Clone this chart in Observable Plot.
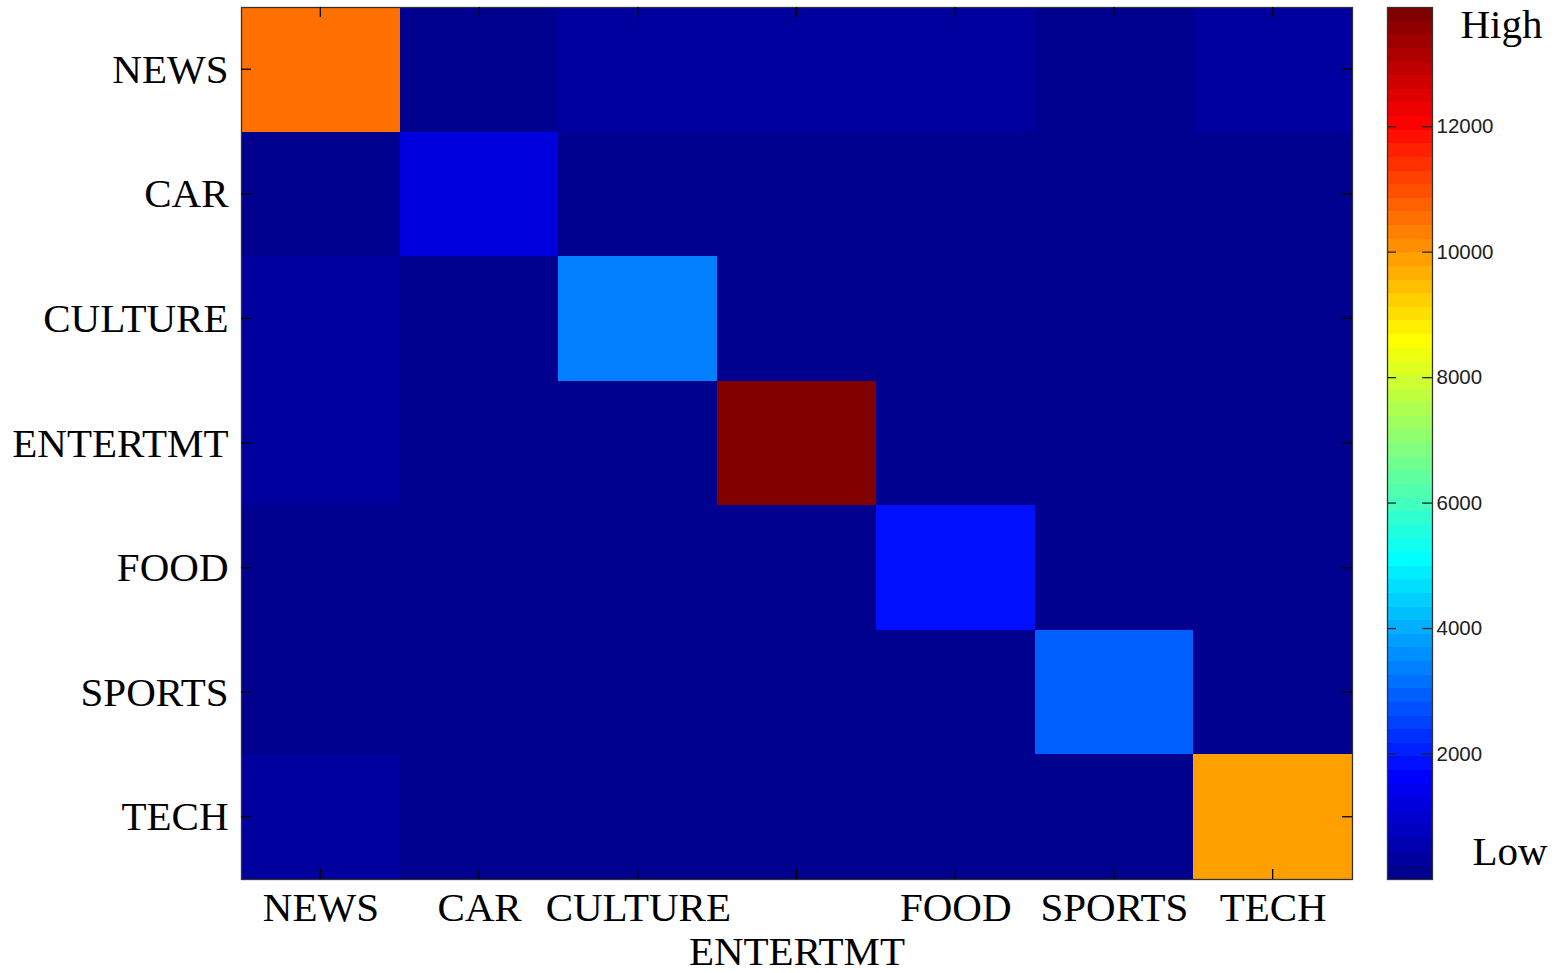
<!DOCTYPE html>
<html>
<head>
<meta charset="utf-8">
<script src="https://cdn.jsdelivr.net/npm/d3@7"></script>
<script src="https://cdn.jsdelivr.net/npm/@observablehq/plot@0.6"></script>
<style>
  html, body { margin: 0; padding: 0; background: #fff; }
  #wrap { position: relative; width: 1557px; height: 973px; }
  #wrap svg { position: absolute; top: 0; overflow: visible; }
</style>
</head>
<body>
<div id="wrap"></div>
<script>
// Confusion matrix of news-category classification (rows: actual, columns: predicted)
const categories = ["NEWS", "CAR", "CULTURE", "ENTERTMT", "FOOD", "SPORTS", "TECH"];

const newsRow     = [10530,    60,   330,   320,   310,    90,   300];
const carRow      = [   40,  1200,    30,    20,    30,    25,    20];
const cultureRow  = [  280,    50,  3370,    60,    40,    30,    50];
const entertmtRow = [  300,    40,    70, 13900,    60,    50,    40];
const foodRow     = [   60,    20,    30,    60,  1850,    30,    20];
const sportsRow   = [   50,    20,    30,    40,    20,  2930,    30];
const techRow     = [  290,    30,    40,    60,    30,    40,  9880];

const colorMin = 0;
const colorMax = 13900;
const colorbarTicks = [2000, 4000, 6000, 8000, 10000, 12000];

const matrix = [newsRow, carRow, cultureRow, entertmtRow, foodRow, sportsRow, techRow];
const cells = categories.flatMap((actual, r) =>
  categories.map((pred, c) => ({actual, pred, value: matrix[r][c]}))
);

// 64-step "jet" colormap
function jet64(t) {
  const i = Math.max(1, Math.min(64, Math.floor(t * 64) + 1));
  const u = k => (k < 1 || k > 47) ? 0 : k <= 16 ? k / 16 : k <= 31 ? 1 : (48 - k) / 16;
  const r = u(i - 24), g = u(i - 8), b = u(i + 8);
  return `rgb(${Math.round(r * 255)},${Math.round(g * 255)},${Math.round(b * 255)})`;
}
const colorScale = {type: "linear", domain: [colorMin, colorMax], interpolate: jet64, clamp: true};

const serif = "'Liberation Serif', 'Times New Roman', Times, serif";
const sans = "'Liberation Sans', Arial, Helvetica, sans-serif";

const chart = Plot.plot({
  width: 1557,
  height: 973,
  marginLeft: 241,
  marginRight: 205,
  marginTop: 7,
  marginBottom: 94,
  x: {domain: categories, padding: 0, round: false, label: null},
  y: {domain: categories, padding: 0, round: false, label: null},
  color: colorScale,
  style: {fontFamily: serif, background: "transparent", color: "#000"},
  marks: [
    Plot.cell(cells, {x: "pred", y: "actual", fill: "value", inset: 0, shapeRendering: "crispEdges"}),
    Plot.axisY({tickSize: 0, tickPadding: 13, fontSize: 41, label: null}),
    Plot.axisX({ticks: categories.filter(c => c !== "ENTERTMT"), tickSize: 0, tickPadding: 12, fontSize: 41, label: null}),
    Plot.axisX({ticks: ["ENTERTMT"], tickSize: 0, tickPadding: 56, fontSize: 41, label: null}),
    Plot.frame({stroke: "#333", strokeWidth: 1.3})
  ]
});

// Inward tick marks on all four sides of the matrix
{
  const sx = chart.scale("x"), sy = chart.scale("y");
  const [x0, x1] = [241, 1557 - 205];
  const [y0, y1] = [7, 973 - 94];
  const len = 10;
  const g = d3.select(chart).append("g").attr("stroke", "#000").attr("stroke-width", 1.3);
  for (const c of categories) {
    const cx = sx.apply(c) + sx.bandwidth / 2;
    g.append("line").attr("x1", cx).attr("x2", cx).attr("y1", y1).attr("y2", y1 - len);
    g.append("line").attr("x1", cx).attr("x2", cx).attr("y1", y0).attr("y2", y0 + len);
    const cy = sy.apply(c) + sy.bandwidth / 2;
    g.append("line").attr("y1", cy).attr("y2", cy).attr("x1", x0).attr("x2", x0 + len);
    g.append("line").attr("y1", cy).attr("y2", cy).attr("x1", x1).attr("x2", x1 - len);
  }
}

// Vertical colorbar
const bands = d3.range(64).map(i => ({
  lo: colorMin + i * (colorMax - colorMin) / 64,
  hi: colorMin + (i + 1) * (colorMax - colorMin) / 64
}));

const colorbar = Plot.plot({
  width: 177,
  height: 973,
  marginLeft: 7,
  marginRight: 125,
  marginTop: 7,
  marginBottom: 94,
  x: {domain: [0, 1], axis: null},
  y: {domain: [colorMin, colorMax], label: null},
  color: colorScale,
  style: {background: "transparent", color: "#000"},
  marks: [
    Plot.rect(bands, {x1: 0, x2: 1, y1: "lo", y2: "hi", fill: d => (d.lo + d.hi) / 2, shapeRendering: "crispEdges"}),
    Plot.ruleY(colorbarTicks, {x1: 0, x2: 0.2, stroke: "#222", strokeWidth: 1.3}),
    Plot.ruleY(colorbarTicks, {x1: 0.78, x2: 1, stroke: "#222", strokeWidth: 1.3}),
    Plot.axisY(colorbarTicks, {anchor: "right", tickSize: 0, tickPadding: 4, fontSize: 20.5, fontFamily: sans, fill: "#222", tickFormat: d => String(d), label: null}),
    Plot.frame({stroke: "#333", strokeWidth: 1.3}),
    Plot.text(["High"], {frameAnchor: "top-right", textAnchor: "start", lineAnchor: "top", dx: 28, dy: 1, fontSize: 41, fontFamily: serif, fill: "#000"}),
    Plot.text(["Low"], {frameAnchor: "bottom-right", textAnchor: "start", lineAnchor: "bottom", dx: 40, dy: -15, fontSize: 41, fontFamily: serif, fill: "#000"})
  ]
});

const wrap = document.getElementById("wrap");
chart.style.left = "0px";
colorbar.style.left = "1380px";
wrap.appendChild(chart);
wrap.appendChild(colorbar);
</script>
</body>
</html>
